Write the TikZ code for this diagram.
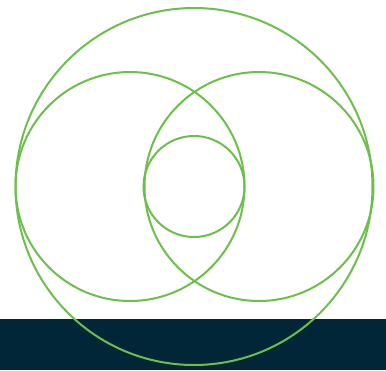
\documentclass[tikz,border=0pt]{standalone}
\usepackage{xcolor}
\usepackage{tikz}

\definecolor{ringgreen}{HTML}{6CBF4B}
\definecolor{bandnavy}{HTML}{012638}

\tikzset{ring/.style={draw=ringgreen, line width=2pt}}

\begin{document}
\begin{tikzpicture}[x=1pt,y=-1pt]
\useasboundingbox (0,0) rectangle (386,370);
\fill[bandnavy] (0,319) rectangle (386,370);

\coordinate (mid) at (194,186.5);
\coordinate (lft) at (130,186.5);
\coordinate (rgt) at (259,186.5);

\draw[ring] (mid) circle (178.5);
\draw[ring] (lft) circle (114.5);
\draw[ring] (rgt) circle (114.5);
\draw[ring] (mid) circle (50.5);
\end{tikzpicture}
\end{document}
